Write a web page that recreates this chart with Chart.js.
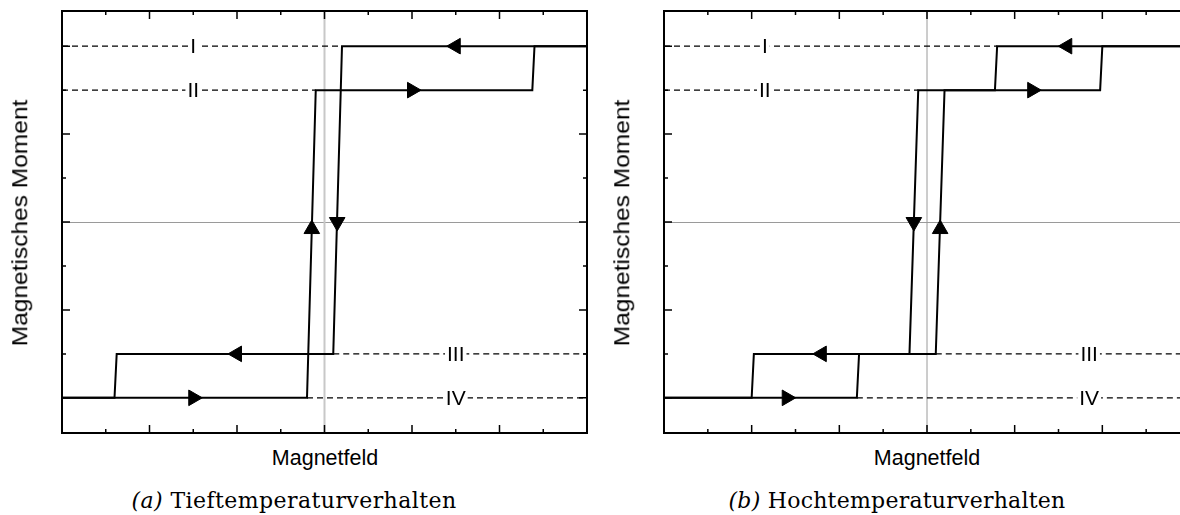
<!DOCTYPE html>
<html>
<head>
<meta charset="utf-8">
<script src="https://cdn.jsdelivr.net/npm/chart.js@4.4.1/dist/chart.umd.min.js"></script>
<style>
  html, body { margin: 0; padding: 0; background: #fff; }
  body { width: 1180px; height: 515px; position: relative; overflow: hidden;
         font-family: "Liberation Sans", Arial, Helvetica, sans-serif; color: #000; }
  .panel { position: absolute; top: 0; height: 445px; overflow: hidden; }
  #panelA { left: 0; width: 600px; }
  #panelB { left: 600px; width: 580px; }
  .axis-title { position: absolute; font-size: 21.5px; line-height: 1; white-space: nowrap; }
  .xt { transform: translate(-50%, -50%); }
  .yt { transform: translate(-50%, -50%) rotate(-90deg) scaleX(1.14); }
  .caption { position: absolute; font-family: "DejaVu Serif", "Liberation Serif", serif;
             font-size: 22px; line-height: 1; white-space: nowrap; transform: translate(-50%, -50%); }
  .caption i { font-style: italic; }
</style>
</head>
<body>
<div class="panel" id="panelA"><canvas id="chartA" width="600" height="445"></canvas></div>
<div class="panel" id="panelB"><canvas id="chartB" width="600" height="445"></canvas></div>

<div class="axis-title xt" style="left:325px; top:459px;">Magnetfeld</div>
<div class="axis-title yt" style="left:21px; top:223px;">Magnetisches Moment</div>
<div class="axis-title xt" style="left:927px; top:459px;">Magnetfeld</div>
<div class="axis-title yt" style="left:623px; top:223px;">Magnetisches Moment</div>

<div class="caption" id="capA" data-width="325" style="left:294px; top:501px;"><i>(a)</i> Tieftemperaturverhalten</div>
<div class="caption" id="capB" data-width="337" style="left:897px; top:501px;"><i>(b)</i> Hochtemperaturverhalten</div>

<script>
// Magnetisation levels and their names
const levelValues = [1, 0.75, -0.75, -1];
const levelNames = ['I', 'II', 'III', 'IV'];

// Axis ticks (no tick labels, inward tick marks only)
const xTickValues = [-5, -4, -3, -2, -1, 0, 1, 2, 3, 4, 5];
const xMajorTicks = [-4, -2, 0, 2, 4];
const yTickValues = [-1, -0.75, -0.5, -0.25, 0, 0.25, 0.5, 0.75, 1];
const yMajorTicks = [-1, -0.5, 0, 0.5, 1];

// (a) low temperature: field sweep up and sweep down
const fieldUpA = [-6, -0.4, -0.2, 4.75, 4.8, 6];
const momentUpA = [-1, -1, 0.75, 0.75, 1, 1];
const fieldDownA = [6, 0.4, 0.2, -4.75, -4.8, -6];
const momentDownA = [1, 1, -0.75, -0.75, -1, -1];
// dashed level guides (start/end field for I..IV) and label positions
const guideStartA = [-6, -6, 0.2, -0.4];
const guideEndA = [0.4, -0.2, 6, 6];
const labelFieldA = [-3, -3, 3, 3];
// direction arrows
const arrowFieldA = [-3, -0.29, 2, 3, 0.29, -2];
const arrowMomentA = [-1, -0.04, 0.75, 1, 0, -0.75];
const arrowAngleA = [90, 0, 90, 270, 180, 270];

// (b) high temperature
const fieldUpB = [-6, -1.6, -1.55, 0.2, 0.4, 3.95, 4.0, 6];
const momentUpB = [-1, -1, -0.75, -0.75, 0.75, 0.75, 1, 1];
const fieldDownB = [6, 1.6, 1.55, -0.2, -0.4, -3.95, -4.0, -6];
const momentDownB = [1, 1, 0.75, 0.75, -0.75, -0.75, -1, -1];
const guideStartB = [-6, -6, 0.2, -1.6];
const guideEndB = [1.6, -0.2, 6, 6];
const labelFieldB = [-3.7, -3.7, 3.7, 3.7];
const arrowFieldB = [-3.2, 0.3, 2.4, 3.2, -0.3, -2.4];
const arrowMomentB = [-1, -0.04, 0.75, 1, 0, -0.75];
const arrowAngleB = [90, 0, 90, 270, 180, 270];

const pts = (xs, ys) => xs.map((x, i) => ({ x, y: ys[i] }));

function decorPlugin(labelField, vZero) {
  return {
    id: 'decor',
    beforeDatasetsDraw(chart) {
      const { ctx, chartArea: a, scales: { x, y } } = chart;
      ctx.save();
      // zero lines
      ctx.strokeStyle = '#9a9a9a';
      ctx.lineWidth = 1;
      const y0 = Math.round(y.getPixelForValue(0)) + 0.5;
      ctx.beginPath(); ctx.moveTo(a.left, y0); ctx.lineTo(a.right, y0); ctx.stroke();
      ctx.strokeStyle = vZero.color;
      ctx.lineWidth = vZero.width;
      const x0 = x.getPixelForValue(0);
      ctx.beginPath(); ctx.moveTo(x0, a.top); ctx.lineTo(x0, a.bottom); ctx.stroke();
      ctx.restore();
    },
    afterDatasetsDraw(chart) {
      const { ctx, chartArea: a, scales: { x, y } } = chart;
      ctx.save();
      // level labels on the dashed guides
      ctx.font = '21px "Liberation Sans", Arial, sans-serif';
      ctx.textAlign = 'center';
      ctx.textBaseline = 'middle';
      levelNames.forEach((name, i) => {
        const px = x.getPixelForValue(labelField[i]);
        const py = y.getPixelForValue(levelValues[i]);
        const w = ctx.measureText(name).width;
        ctx.fillStyle = '#fff';
        ctx.fillRect(px - w / 2 - 2, py - 9, w + 4, 18);
        ctx.fillStyle = '#000';
        ctx.fillText(name, px, py + 1);
      });
      // inward ticks on all four sides
      ctx.strokeStyle = '#000';
      ctx.lineWidth = 1.5;
      ctx.beginPath();
      xTickValues.forEach(v => {
        const px = x.getPixelForValue(v);
        const len = xMajorTicks.includes(v) ? 8 : 4;
        ctx.moveTo(px, a.top); ctx.lineTo(px, a.top + len);
        ctx.moveTo(px, a.bottom); ctx.lineTo(px, a.bottom - len);
      });
      yTickValues.forEach(v => {
        const py = y.getPixelForValue(v);
        const len = yMajorTicks.includes(v) ? 8 : 4;
        ctx.moveTo(a.left, py); ctx.lineTo(a.left + len, py);
        ctx.moveTo(a.right, py); ctx.lineTo(a.right - len, py);
      });
      ctx.stroke();
      // frame
      ctx.lineWidth = 2;
      ctx.strokeRect(a.left, a.top, a.right - a.left, a.bottom - a.top);
      ctx.restore();
    }
  };
}

function buildPanel(id, d) {
  const datasets = [];
  levelValues.forEach((lv, i) => {
    datasets.push({
      data: [{ x: d.guideStart[i], y: lv }, { x: d.guideEnd[i], y: lv }],
      showLine: true, borderColor: '#000', borderWidth: 1.2, borderDash: [6, 4],
      pointRadius: 0, tension: 0
    });
  });
  [pts(d.fieldUp, d.momentUp), pts(d.fieldDown, d.momentDown)].forEach(data => {
    datasets.push({
      data, showLine: true, borderColor: '#000', borderWidth: 2,
      borderJoinStyle: 'miter', pointRadius: 0, tension: 0
    });
  });
  datasets.push({
    data: pts(d.arrowField, d.arrowMoment), showLine: false,
    pointStyle: 'triangle', pointRadius: 9, pointRotation: d.arrowAngle,
    pointBackgroundColor: '#000', pointBorderColor: '#000', pointBorderWidth: 1
  });
  return new Chart(document.getElementById(id), {
    type: 'scatter',
    data: { datasets },
    options: {
      responsive: false, animation: false, events: [],
      layout: { padding: d.padding },
      plugins: { legend: { display: false }, tooltip: { enabled: false } },
      scales: {
        x: { type: 'linear', min: -6, max: 6, display: false },
        y: { type: 'linear', min: -1.2, max: 1.2, display: false }
      }
    },
    plugins: [decorPlugin(d.labelField, d.vZero)]
  });
}

buildPanel('chartA', {
  fieldUp: fieldUpA, momentUp: momentUpA, fieldDown: fieldDownA, momentDown: momentDownA,
  guideStart: guideStartA, guideEnd: guideEndA, labelField: labelFieldA,
  arrowField: arrowFieldA, arrowMoment: arrowMomentA, arrowAngle: arrowAngleA,
  padding: { left: 62, right: 13, top: 11, bottom: 12 },
  vZero: { color: '#c8c8c8', width: 2 }
});
buildPanel('chartB', {
  fieldUp: fieldUpB, momentUp: momentUpB, fieldDown: fieldDownB, momentDown: momentDownB,
  guideStart: guideStartB, guideEnd: guideEndB, labelField: labelFieldB,
  arrowField: arrowFieldB, arrowMoment: arrowMomentB, arrowAngle: arrowAngleB,
  padding: { left: 64, right: 10, top: 11, bottom: 12 },
  vZero: { color: '#9a9a9a', width: 1 }
});

// spread the caption letters to the caption width
document.querySelectorAll('.caption').forEach(el => {
  const target = parseFloat(el.dataset.width);
  const natural = el.getBoundingClientRect().width;
  const n = el.textContent.length;
  el.style.letterSpacing = ((target - natural) / n).toFixed(2) + 'px';
});
</script>
</body>
</html>
